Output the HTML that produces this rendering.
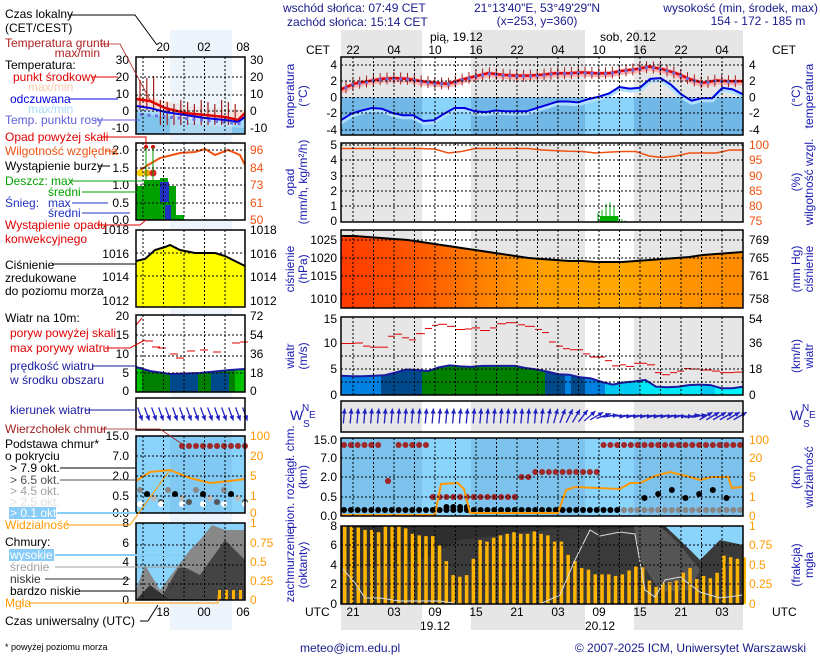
<!DOCTYPE html>
<html><head><meta charset="utf-8"><style>
body{margin:0;background:#fff}
svg{display:block;font-family:"Liberation Sans",sans-serif;font-size:12px}
</style></head><body>
<svg id="s" width="820" height="660" xmlns="http://www.w3.org/2000/svg"></svg>
<script>
var o='';
function T(x,y,t,c,a,sz,extra){o+='<text x="'+x+'" y="'+y+'" fill="'+(c||'#000')+'"'+(a?' text-anchor="'+a+'"':'')+(sz?' font-size="'+sz+'"':'')+(extra||'')+'>'+t+'</text>';}
function R(x,y,w,h,c,ex){o+='<rect x="'+x+'" y="'+y+'" width="'+w+'" height="'+h+'" fill="'+c+'"'+(ex||'')+'/>';}
function P(pts,c,w,ex){o+='<polyline points="'+pts.map(p=>p[0].toFixed(1)+','+p[1].toFixed(1)).join(' ')+'" fill="none" stroke="'+c+'" stroke-width="'+w+'"'+(ex||'')+'/>';}
function A(pts,base,c,ex){o+='<polygon points="'+pts[0][0]+','+base+' '+pts.map(p=>p[0].toFixed(1)+','+p[1].toFixed(1)).join(' ')+' '+pts[pts.length-1][0]+','+base+'" fill="'+c+'"'+(ex||'')+'/>';}
function Ln(x1,y1,x2,y2,c,w,ex){o+='<line x1="'+x1+'" y1="'+y1+'" x2="'+x2+'" y2="'+y2+'" stroke="'+c+'" stroke-width="'+(w||1)+'"'+(ex||'')+'/>';}
function C(x,y,r,c){o+='<circle cx="'+x+'" cy="'+y+'" r="'+r+'" fill="'+c+'"/>';}
function ser(v,x0,x1,f){var n=v.length;return v.map((a,i)=>[x0+(x1-x0)*i/(n-1),f(a)]);}
var X0=341,X1=743;
var nights=[[341,422],[471,585],[634,743]];
nights.forEach(n=>{R(n[0],30,n[1]-n[0],27,'#e6e6e6');R(n[0],604,n[1]-n[0],26,'#e6e6e6');});
var panels=[[57,135],[143,222],[230,308],[317,395],[401,432],[438,516],[526,604]];
panels.forEach((p,i)=>{R(X0,p[0],X1-X0,p[1]-p[0],'#fff');if(i<5)nights.forEach(n=>R(n[0],p[0],n[1]-n[0],p[1]-p[0],'#e6e6e6'));});
var ty=v=>97.5-v*8.1;
R(X0,97.5,402,37.5,'#8ad4fc');nights.forEach(n=>R(n[0],97.5,n[1]-n[0],37.5,'#72b8e6'));
var red=[1.0,1.7,2.0,2.3,2.4,2.3,2.0,1.8,1.7,2.2,2.6,3.0,2.8,2.7,2.7,2.8,3.0,3.0,3.1,3.0,3.0,3.3,3.5,3.8,3.5,3.0,2.3,1.8,2.1,2.0,2.0];
var blue=[-2.8,-2.0,-1.6,-1.3,-1.4,-1.9,-2.2,-2.2,-2.9,-2.8,-2.0,-1.3,-1.3,-1.7,-1.8,-1.6,-1.7,-1.7,-1.7,-1.3,-0.9,-0.5,-0.5,-0.6,-0.2,0.1,0.5,1.3,1.1,1.2,2.3,2.4,1.6,0.4,-0.4,-0.1,-0.1,1.2,1.0,0.4];
P(ser(red,X0,X1,v=>ty(v)+1),'#ffb0b0',6);P(ser(blue,X0,X1,v=>ty(v)+1.5),'#b0e0ff',5);
var rp=ser(red,X0,X1,ty);P(rp,'#e00000',2.5);
for(var i=0;i<58;i++){var x=X0+5+i*6.83;var k=(x-X0)/402*(red.length-1);var a=Math.floor(k),b=Math.min(a+1,red.length-1);var v=red[a]+(red[b]-red[a])*(k-a);Ln(x,ty(v)-6,x,ty(v)+6,'#a02020',1);R(x-1.5,ty(v)-1,3,3,'#7070e0');}
P(ser(blue,X0,X1,ty),'#0000e0',2);
var rh=[99.5,99.5,99.5,99.5,99.5,99.5,99.5,99.3,98,98.5,99.5,99.5,99.5,99.5,99.5,99,98.8,98.6,98.5,98,98.3,98.5,98.5,97,96.5,97,98,98,98,99,99];
P(ser(rh,X0,X1,v=>222-(v-75)*3),'#f05010',1.5);
[[598,0.6],[602,0.8],[606,1.2],[610,1.3],[614,1.0],[618,0.4],[622,0.2],[625,0.1]].forEach(b=>Ln(b[0],222,b[0],222-b[1]*15.2,'#00b000',1));
R(600,216,18,6,'#00b000');
o+='<defs><linearGradient id="pg" x1="0" x2="1"><stop offset="0" stop-color="#ff3a00"/><stop offset=".2" stop-color="#ff5a00"/><stop offset=".35" stop-color="#ff8000"/><stop offset=".5" stop-color="#ffa000"/><stop offset=".7" stop-color="#ffa800"/><stop offset=".85" stop-color="#ff9400"/><stop offset="1" stop-color="#ff8a00"/></linearGradient></defs>';
var pr=[236,236,237,238,239,240,242,244,246,248,250,252,254,256,258,259,260,261,261,262,262,262,261,260,259,258,257,255,254,253,252];
var pp=ser(pr,X0,X1,v=>v);A(pp,308,'url(#pg)');P(pp,'#000',2);
var wy=v=>395-v*5.2;
var ws=[3.7,3.6,3.6,3.7,3.8,4.3,4.9,4.8,4.6,5.3,5.7,5.5,5.4,5.6,5.6,5.6,5.6,5.2,4.9,4.5,4.0,3.9,3.4,3.2,2.5,2.0,2.4,2.6,2.9,1.6,1.5,1.6,1.9,2.0,1.9,1.3,1.3,1.6];
var wp=ser(ws,X0,X1,wy);
o+='<clipPath id="wc"><polygon points="'+X0+',395 '+wp.map(p=>p[0]+','+p[1]).join(' ')+' '+X1+',395"/></clipPath><g clip-path="url(#wc)">';
[[341,381,'#0080e0'],[381,422,'#004a8c'],[422,545,'#008000'],[545,565,'#004a8c'],[565,571,'#0080e0'],[571,585,'#004a8c'],[585,605,'#0080e0'],[605,640,'#00c8f0'],[640,700,'#00e8f8'],[700,715,'#00c8f0'],[715,743,'#00f4ff']].forEach(s=>R(s[0],317,s[1]-s[0],78,s[2]));
o+='</g>';P(wp,'#1a1aa0',2);
[[341,355,9.9],[355,363,10],[363,370,9.4],[370,380,9.2],[380,388,9.2],[388,395,11.3],[395,402,11.7],[402,409,11],[409,416,10.6],[416,425,11.8],[425,432,12.8],[432,438,13.4],[438,447,13.6],[447,455,13.2],[455,465,12.6],[465,472,12.7],[472,480,12.9],[480,490,12.4],[490,497,12.9],[497,506,13.7],[506,518,13.9],[518,525,13.5],[525,535,13.2],[535,542,12.6],[542,549,12],[549,556,10.2],[556,563,9.4],[563,570,8.9],[570,583,8.7],[583,590,7.9],[590,605,7.3],[605,612,6.6],[612,620,5.6],[620,626,5.8],[626,634,5.5],[634,647,6.1],[647,655,5.8],[655,662,4.3],[662,670,3.9],[670,677,4.3],[677,684,4.6],[684,691,5.1],[691,700,5.0],[700,712,4.8],[712,720,4.6],[720,734,4.3],[734,743,4.4]].forEach(s=>Ln(s[0],wy(s[2]),s[1],wy(s[2]),'#e00000',1));
function arrow(cx,cy,deg,len,c){var r=deg*Math.PI/180,dx=Math.sin(r)*len/2,dy=-Math.cos(r)*len/2;Ln(cx-dx,cy-dy,cx+dx,cy+dy,c,1.3);var hx=cx+dx,hy=cy+dy,ux=dx/(len/2),uy=dy/(len/2);o+='<polygon points="'+hx+','+hy+' '+(hx-ux*5-uy*2.5)+','+(hy-uy*5+ux*2.5)+' '+(hx-ux*5+uy*2.5)+','+(hy-uy*5-ux*2.5)+'" fill="'+c+'"/>';}
for(i=0;i<59;i++){var x=344+i*6.83;var d=x<540?5:x<580?5+(x-540)*0.7:x<615?33+(x-580)*1.6:x<690?95:x<705?80:60;arrow(x,416,d,15,'#2020c0');}
R(X0,438,402,78,'#8ad4fc');nights.forEach(n=>R(n[0],438,n[1]-n[0],78,'#7cc2ec'));
for(i=0;i<59;i++){var x=344+i*6.83;
 if(x<430&&Math.abs(x-388)>4)C(x,445,3,'#a02828');
 if(Math.abs(x-388)<4)C(388,481,3,'#a02828');
 if(x>430&&x<520)C(x,497,3,'#a02828');
 if(x>520&&x<600)C(x,x<535?477:472,3,'#a02828');
 if(x>602)C(x,445,3,'#a02828');
 C(x,510,3,x>620?'#888':'#000');
 if(x>445&&x<470)C(x,507,3,'#000');
 if(x>640&&x<730&&i%2==0)C(x,490+(i%3)*4,3,'#000');
}
P([[341,515],[435,515],[441,484],[458,483],[464,489],[470,513],[558,513],[566,490],[575,487],[620,489],[630,483],[640,483],[655,476],[670,472],[690,477],[700,480],[712,477],[728,477],[732,488],[743,487]],'#ff9900',2);
R(X0,526,402,78,'#2e2e2e');
A([[341,570],[420,560],[460,540],[500,535],[560,528],[600,530],[640,527],[680,532],[720,530],[743,528]],604,'#3a3a3a');
o+='<polygon points="660,526 743,526 743,545 720,540 700,560 680,540 665,526" fill="#8ad4fc"/>';
o+='<polygon points="634,526 660,526 680,545 700,570 690,590 660,592 640,560" fill="#555"/>';
var fr=[1,1,0.98,0.95,0.95,0.92,1,1,1,0.97,0.9,0.88,0.87,0.87,0.75,0.55,0.37,0.35,0.37,0.58,0.82,0.8,0.85,0.88,0.9,0.92,0.9,0.9,0.93,0.9,0.88,0.8,0.8,0.63,0.55,0.46,0.44,0.38,0.38,0.38,0.36,0.38,0.43,0.48,0.47,0.3,0.22,0.27,0.28,0.3,0.4,0.46,0.32,0.36,0.33,0.4,0.62,0.6,0.58,0.6];
fr.forEach((f,i)=>R(343+i*6.77,604-f*78,3.5,f*78,'#ffb400'));
P([[343,569],[355,583],[365,598],[380,598],[400,601],[440,601],[460,604],[540,604],[560,595],[575,560],[590,530],[600,536],[620,532],[635,534],[645,590],[655,597],[665,580],[680,577],[700,592],[720,598],[743,595]],'#ddd',1);
panels.forEach((p,j)=>{if(j==4)return;for(var k=0;k<19;k++){var x=353+k*20.5;Ln(x,p[0],x,p[1],'#000',1,' stroke-dasharray="2,2"');}});
var hl={0:[65,81,97.5,113,130],1:[145,160,176,191,206],2:[240,258,276,294],3:[356,369,382],5:[458,477,497],6:[545,565,584]};
for(var j in hl){hl[j].forEach(y=>Ln(X0,y,X1,y,'#000',1,' stroke-dasharray="2,2"'));}
panels.forEach(p=>R(X0,p[0],X1-X0,p[1]-p[0],'none',' stroke="#000" stroke-width="1.5"'));
T(283,12,'wschód słońca: 07:49 CET','#1a1a8c');T(287,26,'zachód słońca: 15:14 CET','#1a1a8c');
T(537,12,'21°13\'40"E, 53°49\'29"N','#1a1a8c','middle');T(537,25,'(x=253,  y=360)','#1a1a8c','middle');
T(818,12,'wysokość (min, środek, max)','#1a1a8c','end');T(758,25,'154 - 172 - 185 m','#1a1a8c','middle');
T(430,41,'pią, 19.12');T(600,41,'sob, 20.12');T(306,54,'CET');T(772,54,'CET');
var cet=['22','04','10','16','22','04','10','16','22','04'],utc=['21','03','09','15','21','03','09','15','21','03'];
cet.forEach((h,k)=>{T(353+k*41,54,h,'#000','middle');T(353+k*41,616,utc[k],'#000','middle');});
T(305,616,'UTC');T(772,616,'UTC');T(435,630,'19.12','#000','middle');T(600,630,'20.12','#000','middle');
T(300,652,'meteo@icm.edu.pl','#1a1a8c');T(806,652,'© 2007-2025 ICM, Uniwersytet Warszawski','#1a1a8c','end');
function ax(vals,ys,c){vals.forEach((v,i)=>{T(337,ys[i]+4,v,c||'#000','end');});}
function axr(vals,ys,c){vals.forEach((v,i)=>{T(749,ys[i]+4,v,c||'#000');});}
ax(['4','2','0','-2','-4'],hl[0]);axr(['4','2','0','-2','-4'],hl[0]);
ax(['5','4','3','2','1','0'],[145,160,176,191,206,221]);axr(['100','95','90','85','80','75'],[145,160,176,191,206,221],'#f05010');
ax(['1025','1020','1015','1010'],[240,258,276,299]);axr(['769','765','761','758'],[240,258,276,299]);
ax(['15','10','5','0'],[319,343,369,395]);axr(['54','36','18','0'],[319,343,369,395]);
ax(['15.0','7.0','2.0','0.5','0.0'],[440,458,477,497,516]);axr(['100','20','5','1','0'],[440,458,477,497,516],'#ff9900');
ax(['8','6','4','2','0'],[526,545,565,584,604]);axr(['1','0.75','0.5','0.25','0'],[526,545,565,584,604],'#ff9900');
function rot(x,y,lines,c){lines.forEach((t,i)=>{o+='<text transform="translate('+(x+i*13)+','+y+') rotate(-90)" text-anchor="middle" fill="'+c+'">'+t+'</text>';});}
rot(294,96,['temperatura','(°C)'],'#1a1ab0');rot(800,96,['(°C)','temperatura'],'#1a1ab0');
rot(294,182,['opad','(mm/h, kg/m²/h)'],'#1a1ab0');rot(800,182,['(%)','wilgotność wzgl.'],'#1a1ab0');
rot(294,269,['ciśnienie','(hPa)'],'#1a1ab0');rot(800,269,['(mm Hg)','ciśnienie'],'#1a1ab0');
rot(294,356,['wiatr','(m/s)'],'#1a1ab0');rot(800,356,['(km/h)','wiatr'],'#1a1ab0');
rot(294,477,['pion. rozciągł. chm.','(km)'],'#1a1ab0');rot(800,477,['(km)','widzialność'],'#1a1ab0');
rot(294,565,['zachmurzenie','(oktanty)'],'#1a1ab0');rot(800,565,['(frakcja)','mgła'],'#1a1ab0');
T(290,420,'W','#1a1ab0','start',14);T(302,411,'N','#1a1ab0','start',10);T(303,427,'S','#1a1ab0','start',10);T(309,418,'E','#1a1ab0','start',10);
T(790,420,'W','#1a1ab0','start',14);T(802,411,'N','#1a1ab0','start',10);T(803,427,'S','#1a1ab0','start',10);T(809,418,'E','#1a1ab0','start',10);
var L0=136,L1=245;
R(170,30,62,600,'#eef4fc');
var lp=[[57,134],[143,220],[230,307],[315,392],[398,430],[436,513],[523,600]];
R(L0,57,109,77,'#fff');A([[136,95],[160,100],[190,106],[245,110]],134,'#ffe0d4');A([[136,108],[160,112],[190,118],[245,120]],134,'#a8dcfc');A([[136,112],[170,118],[200,125],[245,128]],134,'#80c4ec');R(170,57,62,77,'#dcebf8',' opacity=".5"');
for(i=0;i<15;i++){var x=140+i*6.8;Ln(x,x<160?80-(i*2):100+(i%3)*2,x,x<160?110:125,'#a02020',1.2);}
P([[136,99],[150,101],[165,108],[185,113],[205,115],[225,117],[238,120],[245,113]],'#e00000',2.5);
P([[136,106],[150,108],[165,112],[185,115],[205,118],[225,120],[238,122],[245,117]],'#0000e0',2);
for(i=0;i<14;i++)R(140+i*7.5,113+i*0.7,3,3,'#7070e0');
R(L0,143,109,77,'#fff');R(136,186,40,34,'#00a000');R(144,180,16,40,'#00a000');R(160,178,8,42,'#00a000');R(160,182,9,20,'#2030c0');R(165,205,6,15,'#2030c0');R(176,215,8,5,'#00b000');
P([[136,173],[148,165],[160,158],[180,153],[195,152],[205,149],[215,155],[228,150],[240,155],[245,165]],'#f05010',2);
C(140,173,3.5,'#f8d000');C(147,173,3.5,'#f0a000');C(153,173,3.5,'#e02020');C(146,147,2,'#e00000');C(153,147,2,'#e00000');Ln(146,147,146,183,'#00a000');Ln(153,147,153,183,'#00a000');
R(L0,230,109,77,'#fff');var pl=[[136,261],[145,259],[155,250],[165,247],[170,245],[180,250],[195,253],[215,253],[225,256],[245,266]];A(pl,307,'#ffff00');P(pl,'#000',2);
R(L0,315,109,77,'#fff');var wl=[[136,367],[150,371],[170,374],[200,373],[230,370],[245,369]];A(wl,392,'#008000');R(136,367,6,25,'#00c000');R(235,370,10,22,'#00c000');R(170,374,28,18,'#004a8c');R(211,373,18,19,'#004a8c');P(wl,'#1a1aa0',2);
P([[136,325],[142,318]],'#e00000',1);[[145,341],[152,347],[158,348],[170,354],[176,358],[187,351],[200,350],[213,352],[232,343],[240,342]].forEach(s=>Ln(s[0],s[1],s[0]+8,s[1],'#e00000',1));
R(L0,398,109,32,'#fff');for(i=0;i<16;i++)arrow(140+i*7,414,160,14,'#2020c0');
R(L0,436,109,77,'#8ad4fc');R(170,436,62,77,'#7cc2ec',' opacity=".6"');
for(i=0;i<16;i++){var x=140+i*7;if(x>175)C(x,446,3,'#a02828');C(x,490+(i%4)*4,3,['#888','#000','#bbb','#555'][i%4]);if(i%3==0)C(x,504,3,'#fff');}
P([[136,481],[150,472],[170,470],[190,478],[210,483],[230,481],[245,479]],'#ff9900',2);
R(L0,523,109,77,'#8ad4fc');o+='<polygon points="136,590 145,565 160,590 175,570 190,550 200,540 212,525 225,530 245,530 245,600 136,600" fill="#888"/><polygon points="160,600 180,565 200,575 225,540 245,560 245,600" fill="#444"/><polygon points="136,600 150,585 170,600" fill="#333"/>';
[218,225,232,239].forEach(x=>R(x,590,3,10,'#ffb400'));
lp.forEach((p,j)=>{if(j==4)return;for(var k=0;k<5;k++){var x=143+k*20.5;Ln(x,p[0],x,p[1],'#000',1,' stroke-dasharray="2,2"');}});
[[77,95,111],[150,168,185,203],[253,276],[335,356,373],[456,476,496],[545,565,584]].forEach(ys=>{ys.forEach(y=>Ln(L0,y,L1,y,'#000',1,' stroke-dasharray="2,2"'));});
lp.forEach(p=>R(L0,p[0],109,p[1]-p[0],'none',' stroke="#000" stroke-width="1.5"'));
T(163,51,'20','#000','middle');T(204,51,'02','#000','middle');T(243,51,'08','#000','middle');
T(163,616,'18','#000','middle');T(204,616,'00','#000','middle');T(243,616,'06','#000','middle');
function la(v,ys,c){v.forEach((t,i)=>T(129,ys[i]+4,t,c||'#000','end'));}
function ra(v,ys,c){v.forEach((t,i)=>T(250,ys[i]+4,t,c||'#000'));}
la(['30','20','10','0','-10'],[60,77,94,111,128]);ra(['30','20','10','0','-10'],[60,77,94,111,128]);
la(['2.0','1.5','1.0','0.5','0.0'],[150,168,185,203,220]);ra(['96','84','73','61','50'],[150,168,185,203,220],'#f05010');
la(['1018','1016','1014','1012'],[230,254,277,301]);ra(['1018','1016','1014','1012'],[230,254,277,301]);
la(['20','15','10','5','0'],[316,335,354,373,391]);ra(['72','54','36','18','0'],[316,335,354,373,391]);
la(['15.0','7.0','2.0','0.5','0.0'],[436,456,476,496,513]);ra(['100','20','5','1','0'],[436,456,476,496,513],'#ff9900');
la(['8','6','4','2','0'],[523,543,562,581,600]);ra(['1','0.75','0.5','0.25','0'],[523,543,562,581,600],'#ff9900');
T(5,18,'Czas lokalny');T(5,32,'(CET/CEST)');P([[70,15],[135,15],[157,45]],'#000',1);
T(5,47,'Temperatura gruntu','#b02020');T(100,57,'max/min','#b02020','end');P([[100,44],[120,44],[150,100]],'#b02020',.8);
T(5,69,'Temperatura:');T(13,81,'punkt środkowy','#e00000');P([[92,77],[118,77]],'#e00000',1);
T(28,91,'max/min','#ffc8b0');T(10,103,'odczuwana','#0000e0');P([[70,99],[118,99]],'#0000e0',1);T(28,113,'max/min','#a8dcfc');
T(5,124,'Temp. punktu rosy','#6060e0');P([[95,120],[140,120]],'#6060e0',1);
T(5,141,'Opad powyżej skali','#e00000');P([[102,137],[146,137],[146,145]],'#e00000',1);
T(5,155,'Wilgotność względna','#f05010');P([[105,151],[112,151]],'#f05010',1);
T(5,170,'Wystąpienie burzy');P([[99,166],[110,166]],'#000',1);
T(5,185,'Deszcz: max','#00a000');P([[70,181],[146,181]],'#00a000',1);T(48,196,'średni','#00a000');P([[82,192],[148,192]],'#00a000',1);
T(5,207,'Śnieg:','#2030c0');T(48,207,'max','#2030c0');P([[72,203],[108,203]],'#2030c0',1);T(48,217,'średni','#2030c0');P([[82,213],[130,213]],'#2030c0',1);
T(5,229,'Wystąpienie opadu','#e00000');T(5,243,'konwekcyjnego','#e00000');P([[97,225],[140,225],[146,220]],'#e00000',1);
T(5,269,'Ciśnienie');P([[52,264],[136,264]],'#000',1);T(5,282,'zredukowane');T(5,295,'do poziomu morza');
T(5,322,'Wiatr na 10m:');T(10,337,'poryw powyżej skali','#e00000');T(10,352,'max porywy wiatru','#e00000');P([[105,348],[130,348],[145,340]],'#e00000',1);
T(10,370,'prędkość wiatru','#1a1aa0');P([[92,366],[136,366]],'#1a1aa0',1);T(10,384,'w środku obszaru','#1a1aa0');
T(10,414,'kierunek wiatru','#1a1aa0');P([[85,410],[136,410]],'#1a1aa0',1);
T(5,433,'Wierzchołek chmur','#a02020');P([[100,429],[160,429],[185,446]],'#a02020',.8);
T(5,448,'Podstawa chmur*');T(5,460,'o pokryciu');
T(10,472,'> 7.9 okt.');P([[60,468],[136,468]],'#000',1);T(10,484,'> 6.5 okt.','#505050');P([[60,480],[136,480]],'#505050',1);
T(10,495,'> 4.5 okt.','#a0a0a0');T(10,506,'> 2.5 okt.','#e0e0e0');R(9,507,47,12,'#88ccf8');T(10,517,'> 0.1 okt.','#fff');P([[57,513],[136,513]],'#88ccf8',2);
T(5,529,'Widzialność','#ff9900');P([[65,525],[130,525],[170,470]],'#ff9900',1);
T(5,546,'Chmury:');R(9,549,45,12,'#88ccf8');T(10,559,'wysokie','#fff');P([[55,555],[180,555]],'#88ccf8',2);
T(10,571,'średnie','#a0a0a0');P([[55,567],[190,567]],'#a0a0a0',1);T(10,583,'niskie','#303030');P([[45,579],[130,579]],'#303030',1);
T(10,595,'bardzo niskie');P([[80,591],[136,591]],'#000',1);T(5,607,'Mgła','#ff9900');P([[30,603],[218,603],[218,595]],'#ff9900',1);
T(5,625,'Czas uniwersalny (UTC)');P([[140,621],[148,621],[158,605]],'#000',1);
T(5,650,'* powyżej poziomu morza','#000','start',9);
document.getElementById('s').innerHTML=o;
</script>
</body></html>
